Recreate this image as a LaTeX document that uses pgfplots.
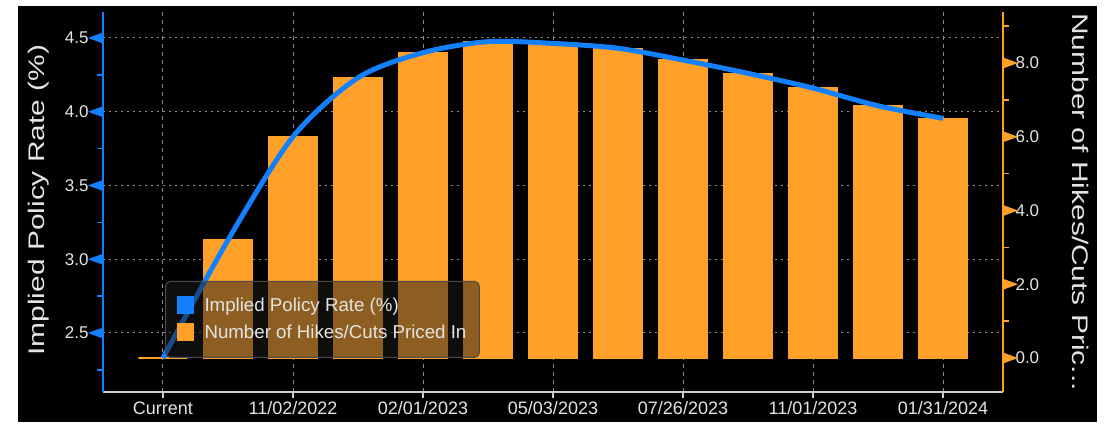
\documentclass[border=0pt]{standalone}
\usepackage{pgfplots}
\pgfplotsset{compat=1.18}
\usepackage{fontspec}
\setmainfont{Liberation Sans}
\definecolor{bbblue}{RGB}{18,128,255}
\definecolor{bborange}{RGB}{255,160,40}
\definecolor{bbtext}{RGB}{228,228,224}
\definecolor{bbgrid}{RGB}{140,140,140}
\definecolor{bbaxis}{RGB}{205,205,205}
\definecolor{bblegfill}{RGB}{28,28,28}
\definecolor{bblegdraw}{RGB}{75,75,75}
\begin{document}
\begin{tikzpicture}[x=1pt,y=1pt]
\useasboundingbox (0,0) rectangle (1107,424);
\fill[white] (0,0) rectangle (1107,424);
\fill[black] (18,2) rectangle (1097,418);
\pgfplotsset{
  bbcommon/.style={
    at={(103pt,32pt)}, anchor=south west,
    width=900pt, height=380pt, scale only axis,
    xmin=-0.923, xmax=12.923,
    clip=false,
    tick align=outside,
    major tick length=6pt, minor tick length=6pt,
    /pgf/number format/assume math mode=true,
    ticklabel style={font=\fontsize{17}{20}\selectfont, text=bbtext},
  },
}
% Axis A: x axis, left y axis, grids
\begin{axis}[bbcommon,
  ymin=2.1, ymax=4.676,
  axis x line*=bottom, axis y line*=left,
  x axis line style={draw=bbaxis, line width=2pt, -},
  y axis line style={draw=bbblue, line width=2pt, -},
  xtick={0,2,4,6,8,10,12},
  xticklabels={Current,11/02/2022,02/01/2023,05/03/2023,07/26/2023,11/01/2023,01/31/2024},
  xticklabel style={font=\fontsize{18}{20}\selectfont},
  ytick={2.5,3,3.5,4,4.5},
  minor ytick={2.25,2.75,3.25,3.75,4.25},
  yticklabel style={/pgf/number format/fixed, /pgf/number format/fixed zerofill, /pgf/number format/precision=1, xshift=-5pt},
  xtick style={draw=bbaxis, line width=1.5pt},
  ytick style={draw=bbblue, line width=1.5pt},
  xmajorgrids, ymajorgrids,
  x grid style={draw=bbgrid, dash pattern=on 4pt off 4pt, line width=1pt},
  y grid style={draw=bbgrid, dash pattern=on 2pt off 4pt, line width=1pt},
  ylabel={\scalebox{1.33}[1]{Implied Policy Rate (\%)}},
  every axis y label/.style={at={(axis description cs:-0.071,0.505)}, anchor=center, rotate=90, font=\fontsize{22.5}{26}\selectfont, text=bbtext},
]
\pgfplotsinvokeforeach{2.5,3.0,3.5,4.0,4.5}{
  \fill[bbblue] ([yshift=5.5pt]axis cs:-0.923,#1) -- ++(-15pt,-5.5pt) -- ++(15pt,-5.5pt) -- cycle;
}
\end{axis}
% Axis B: bars, right y axis
\begin{axis}[bbcommon,
  ymin=-0.922, ymax=9.383,
  axis x line=none, axis y line*=right,
  y axis line style={draw=bborange, line width=2pt, -},
  ytick={0,2,4,6,8}, minor ytick={1,3,5,7,9},
  ytick style={draw=bborange, line width=1.5pt},
  yticklabel style={/pgf/number format/fixed, /pgf/number format/fixed zerofill, /pgf/number format/precision=1, xshift=3pt},
  ylabel={\scalebox{1.33}[1]{Number of Hikes/Cuts Pric...}},
  every axis y label/.style={at={(axis description cs:1.0856,0.5)}, anchor=center, rotate=-90, font=\fontsize{22.5}{26}\selectfont, text=bbtext},
  ybar, bar width=49pt,
]
\addplot[fill=bborange, draw=bborange, line width=1.2pt] coordinates {
  (0,0) (1,3.2) (2,6.0) (3,7.6) (4,8.28) (5,8.58) (6,8.53) (7,8.4) (8,8.08) (9,7.72) (10,7.32) (11,6.84) (12,6.5)
};
\pgfplotsinvokeforeach{0,2,4,6,8}{
  \fill[bborange] ([yshift=5.5pt]axis cs:12.923,#1) -- ++(15pt,-5.5pt) -- ++(-15pt,-5.5pt) -- cycle;
}
\end{axis}
% Axis C: line + legend
\begin{axis}[bbcommon,
  ymin=2.1, ymax=4.676, hide axis,
  legend cell align=left,
  legend style={at={(0.0689,0.0895)}, anchor=south west, fill=bblegfill, fill opacity=0.5, draw=bblegdraw, draw opacity=1, text opacity=1, rounded corners=5pt, line width=1pt, font=\fontsize{18.7}{22}\selectfont, text=bbtext, inner xsep=11pt, inner ysep=15pt, /tikz/row sep=8pt, /tikz/every odd column/.append style={column sep=9pt}},
]
\addplot[bbblue, line width=5pt, smooth, tension=0.5, forget plot] coordinates {
  (0,2.33) (1,3.13) (2,3.83) (3,4.23) (4,4.40) (5,4.475) (6,4.463) (7,4.43) (8,4.35) (9,4.26) (10,4.16) (11,4.04) (12,3.955)
};
\addlegendimage{legend image code/.code={\fill[bbblue, fill opacity=1, sharp corners] (0pt,-8pt) rectangle (16pt,9pt);}}
\addlegendentry{Implied Policy Rate (\%)}
\addlegendimage{legend image code/.code={\fill[bborange, fill opacity=1, sharp corners] (0pt,-8pt) rectangle (16pt,9pt);}}
\addlegendentry{Number of Hikes/Cuts Priced In}
\end{axis}
\end{tikzpicture}
\end{document}
